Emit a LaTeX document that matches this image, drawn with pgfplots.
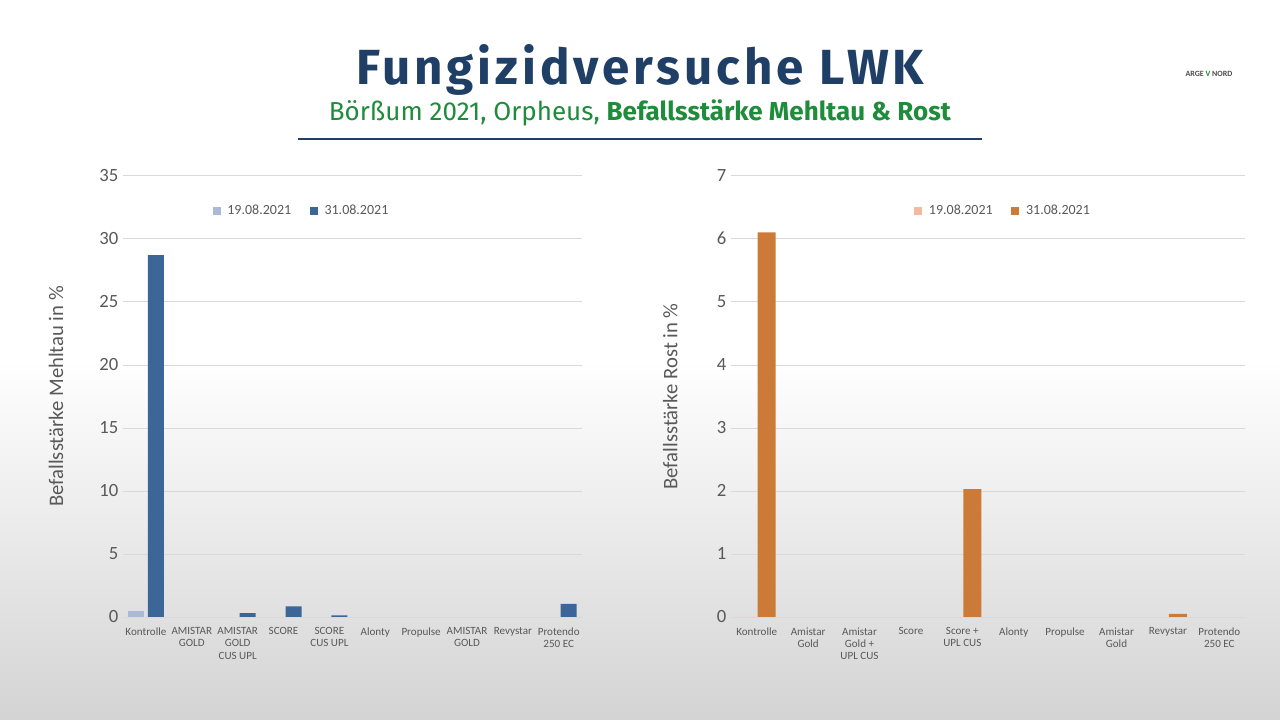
\documentclass[border=0pt]{standalone}
\usepackage{pgfplots}
\pgfplotsset{compat=1.18}
\usepackage{fontspec}
\setmainfont{Carlito}
\newfontfamily\titlefont[LetterSpace=8]{Fira Sans}
\newfontfamily\subfont{Fira Sans}
\definecolor{tblue}{HTML}{1F3F66}
\definecolor{sgreen}{HTML}{1E8C3A}
\definecolor{lblue}{HTML}{A9B9D6}
\definecolor{dblue}{HTML}{3D6698}
\definecolor{lorange}{HTML}{F4B9A0}
\definecolor{dorange}{HTML}{CC7A38}
\definecolor{tgray}{HTML}{595959}
\pgfplotsset{
 sq/.style={/pgfplots/legend image code/.code={\fill[##1] (0pt,-3pt) rectangle (6pt,3pt);}},
 common/.style={
  scale only axis, ymin=0, xmin=-0.5, xmax=9.5, xtick={0,...,9},
  axis line style={draw=none}, tick style={draw=none},
  ymajorgrids, grid style={draw=gray!30},
  ticklabel style={text=tgray},
  yticklabel style={font=\fontsize{14}{15}\selectfont},
  xticklabel style={font=\fontsize{8.3}{9.3}\selectfont, align=center, anchor=north},
  ylabel style={font=\fontsize{15.5}{16}\selectfont, text=tgray},
  /pgf/number format/assume math mode=true,
  legend style={draw=none, fill=none, font=\fontsize{10.5}{11}\selectfont, text=tgray, legend columns=2, /tikz/every odd column/.append style={column sep=3pt}, /tikz/every even column/.append style={column sep=12pt}},
  bar width=12pt, ybar=0pt,
 }
}
\begin{document}
\begin{tikzpicture}[x=0.75pt,y=0.75pt]
\shade[top color=white, bottom color=black!17, middle color=white] (0,0) rectangle (1280,720);
\node[text=tblue, font=\titlefont\fontsize{37}{40}\selectfont\bfseries] at (640,650) {Fungizidversuche LWK};
\node[text=sgreen, font=\subfont\fontsize{19.5}{22}\selectfont] at (640,607) {Börßum 2021, Orpheus, \textbf{Befallsstärke Mehltau \& Rost}};
\draw[tblue, line width=2.2pt] (298,581) -- (982,581);
\node[font=\bfseries\fontsize{6}{7}\selectfont, text=black!70] at (1209,646) {ARGE \textcolor{sgreen}{V} NORD};
\begin{axis}[common, at={(92.25pt,77.25pt)}, anchor=south west, width=344pt, height=331pt,
 ymax=35, ytick={0,5,...,35},
 xticklabels={Kontrolle,AMISTAR\\GOLD,AMISTAR\\GOLD\\CUS UPL,SCORE,SCORE\\CUS UPL,Alonty,Propulse,AMISTAR\\GOLD,Revystar,Protendo\\250 EC},
 ylabel={Befallsstärke Mehltau in \%}, ylabel style={at={(axis description cs:-0.12,0.5)}},
 legend style={at={(0.39,0.92)}, anchor=center}]
\addplot[fill=lblue, draw=none, bar shift=-7.5pt, sq] coordinates {(0,0.5)};
\addplot[fill=dblue, draw=none, bar shift=7.5pt, sq] coordinates {(0,28.7)(2,0.3)(3,0.85)(4,0.12)(9,1.05)};
\legend{19.08.2021,31.08.2021}
\end{axis}
\begin{axis}[common, at={(548.25pt,77.25pt)}, anchor=south west, width=385.5pt, height=331pt,
 ymax=7, ytick={0,...,7}, bar width=13.5pt,
 xticklabels={Kontrolle,Amistar\\Gold,Amistar\\Gold +\\UPL CUS,Score,Score +\\UPL CUS,Alonty,Propulse,Amistar\\Gold,Revystar,Protendo\\250 EC},
 ylabel={Befallsstärke Rost in \%}, ylabel style={at={(axis description cs:-0.095,0.5)}},
 legend style={at={(0.53,0.92)}, anchor=center}]
\addplot[fill=lorange, draw=none, bar shift=-7.5pt, sq] coordinates {(0,0)};
\addplot[fill=dorange, draw=none, bar shift=7.5pt, sq] coordinates {(0,6.1)(4,2.03)(8,0.05)};
\legend{19.08.2021,31.08.2021}
\end{axis}
\end{tikzpicture}
\end{document}
